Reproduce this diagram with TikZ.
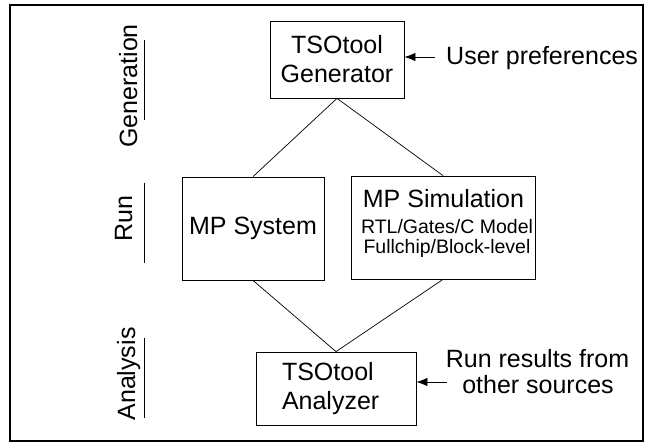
\documentclass[tikz,border=0pt]{standalone}
\usepackage{fontspec}
\setmainfont{Liberation Sans}
\usetikzlibrary{arrows.meta}
\begin{document}
\begin{tikzpicture}[x=1pt,y=-1pt,
  big/.style={font=\fontsize{25}{29}\selectfont},
  small/.style={font=\fontsize{19.5}{20}\selectfont},
  box/.style={draw, line width=0.8pt, inner sep=0pt, align=center},
  link/.style={line width=0.7pt},
  arr/.style={line width=0.8pt, -{Latex[length=11pt,width=8.5pt]}},
  stage/.style={big, rotate=90, anchor=base, inner sep=0pt},
  bar/.style={line width=0.8pt},
]
\useasboundingbox (0,0) rectangle (648,446);
\draw[line width=1.1pt] (10,5) rectangle (643,441);

% boxes
\node[box, big, minimum width=134pt, minimum height=77pt] (gen) at (337,59.5) {TSOtool\\Generator};
\node[box, big, minimum width=142pt, minimum height=103pt] (sys) at (253,228.5) {MP System};
\node[box, minimum width=184pt, minimum height=103pt] (sim) at (443,227.5) {};
\node[big, anchor=base, inner sep=0pt] (simt) at (443.5,208) {MP Simulation};
\node[small, anchor=base, inner sep=0pt] (simd1) at (447,234) {RTL/Gates/C Model};
\node[small, anchor=base, inner sep=0pt] (simd2) at (447,254) {Fullchip/Block-level};
\node[box, big, minimum width=160pt, minimum height=73pt, text width=108pt, align=left] (ana) at (336,388.5) {TSOtool\\Analyzer};

% connectors
\draw[link] (gen.south) -- (sys.north);
\draw[link] (gen.south) -- (sim.north);
\draw[link] (sys.south) -- (ana.north);
\draw[link] (sim.south) -- (ana.north);

% inputs
\node[big, anchor=base west, inner sep=0pt] (up) at (446,65) {User preferences};
\coordinate (upa) at (435,57);
\draw[arr] (upa) -- (upa -| gen.east);
\node[big, anchor=base, inner sep=0pt] (rr1) at (537.5,367) {Run results from};
\node[big, anchor=base, inner sep=0pt] (rr2) at (538,393) {other sources};
\coordinate (rra) at (447,382);
\draw[arr] (rra) -- (rra -| ana.east);

% stage labels
\node[stage] (lgen) at (137,86) {Generation};
\node[stage] (lrun) at (132,219) {Run};
\node[stage] (lana) at (135,374) {Analysis};
\draw[bar] (144,40) -- (144,120);
\draw[bar] (144,183) -- (144,263);
\draw[bar] (144,338) -- (144,418);
\end{tikzpicture}
\end{document}
